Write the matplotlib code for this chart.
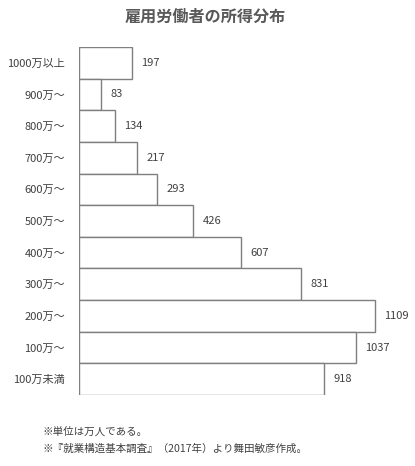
import matplotlib
matplotlib.use("Agg")
import matplotlib.pyplot as plt

plt.rcParams['font.family'] = ['Noto Sans CJK JP', 'DejaVu Sans']

categories = ["1000万以上", "900万〜", "800万〜", "700万〜", "600万〜", "500万〜",
              "400万〜", "300万〜", "200万〜", "100万〜", "100万未満"]
values = [197, 83, 134, 217, 293, 426, 607, 831, 1109, 1037, 918]
title = "雇用労働者の所得分布"
notes = ["※単位は万人である。", "※『就業構造基本調査』（2017年）より舞田敏彦作成。"]

W, H = 415, 466
fig = plt.figure(figsize=(W / 100, H / 100), dpi=100)
left, right = 79, 399
top, bottom = 47, 395
ax = fig.add_axes([left / W, 1 - bottom / H, (right - left) / W, (bottom - top) / H])

n = len(categories)
ypos = list(range(n))
ax.barh(ypos, values, height=1.0, color="white", edgecolor="#7f7f7f", linewidth=1.0)
ax.set_ylim(n - 0.5, -0.5)
ax.set_xlim(0, 1200)
ax.set_yticks(ypos)
ax.set_yticklabels(categories, fontsize=8, color="#404040")
ax.tick_params(axis="y", length=0, pad=10)
ax.set_xticks([])
for s in ax.spines.values():
    s.set_visible(False)

for y, v in zip(ypos, values):
    ax.annotate(str(v), (v, y), xytext=(7, 0), textcoords="offset points",
                ha="left", va="center", fontsize=8, color="#404040")

fig.text(205 / W, 1 - 17 / H, title, ha="center", va="center", fontsize=11.6,
         fontweight="bold", color="#595959")
for i, t in enumerate(notes):
    fig.text(42 / W, 1 - (432 + 17 * i) / H, t, ha="left", va="center",
             fontsize=7.6, color="#404040")

fig.savefig("out.png", dpi=100)
